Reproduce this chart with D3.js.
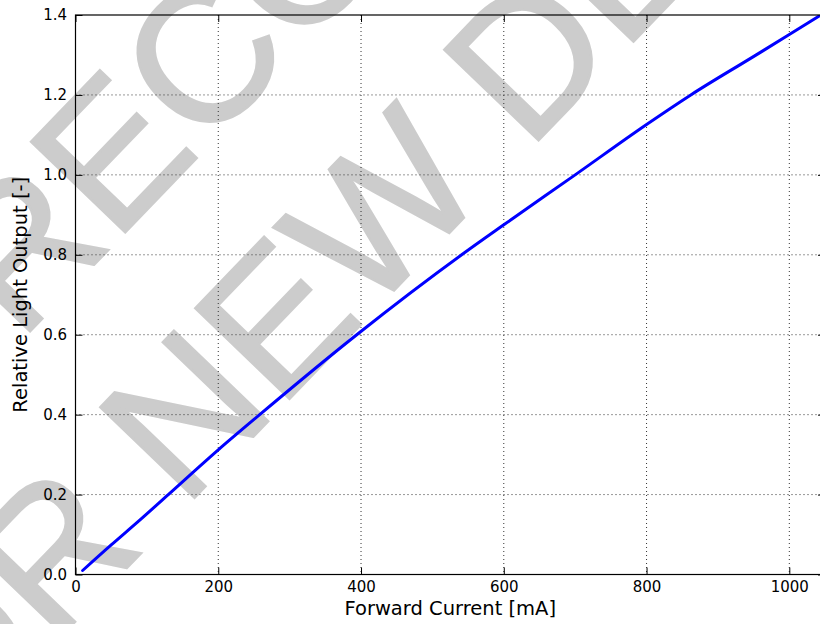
<!DOCTYPE html>
<html>
<head>
<meta charset="utf-8">
<script src="https://cdn.jsdelivr.net/npm/d3@7"></script>
<style>
  html, body { margin: 0; padding: 0; background: #fff; }
  svg { display: block; }
</style>
</head>
<body>
<svg id="chart" width="820" height="624"></svg>
<script>
// ---- data ----
const current = [10, 50, 90, 130, 200, 258, 394, 541, 600, 700, 800, 862, 948, 1000, 1045];
const lightOutput = [0.010, 0.074, 0.136, 0.200, 0.312, 0.400, 0.600, 0.800, 0.875, 1.000, 1.126, 1.200, 1.294, 1.351, 1.401];
const xTicks = [0, 200, 400, 600, 800, 1000];
const yTicks = [0.0, 0.2, 0.4, 0.6, 0.8, 1.0, 1.2, 1.4];
const xLabel = "Forward Current [mA]";
const yLabel = "Relative Light Output [-]";
const watermarkLines = ["NOT RECOMMENDED", "FOR NEW DESIGN"];

// ---- layout ----
const pLeft = 75.5, pTop = 15, pRight = 825, pBottom = 574.5;
const svg = d3.select("#chart");

const x = d3.scaleLinear().domain([0, 1050]).range([pLeft, pRight]);
const y = d3.scaleLinear().domain([0, 1.4]).range([pBottom, pTop]);

// ---- watermark ----
const wmAngle = 46.1;
const wm = svg.append("g").attr("transform", `rotate(${-wmAngle})`);
const wmStarts = [[-293, 667], [-131, 836]];
watermarkLines.forEach((t, i) => {
  const a = wmAngle * Math.PI / 180;
  const sx = wmStarts[i][0], sy = wmStarts[i][1];
  const rx = sx * Math.cos(a) - sy * Math.sin(a);
  const ry = sx * Math.sin(a) + sy * Math.cos(a);
  wm.append("text")
    .attr("x", rx).attr("y", ry)
    .attr("font-family", "'Liberation Sans', Arial, sans-serif")
    .attr("font-size", 190)
    .attr("fill", "#cccccc")
    .attr("stroke", "#cccccc")
    .attr("stroke-width", 2.5)
    .attr("stroke-linejoin", "miter")
    .text(t);
});

// ---- grid ----
const grid = svg.append("g");
grid.selectAll("line.gx").data(xTicks.filter(d => d > 0)).enter().append("line")
  .attr("x1", d => x(d)).attr("x2", d => x(d))
  .attr("y1", pTop).attr("y2", pBottom)
  .attr("stroke", "#333").attr("stroke-width", 1).attr("stroke-dasharray", "1,3");
grid.selectAll("line.gy").data(yTicks.filter(d => d > 0 && d < 1.4)).enter().append("line")
  .attr("x1", pLeft).attr("x2", pRight)
  .attr("y1", d => y(d)).attr("y2", d => y(d))
  .attr("stroke", "#333").attr("stroke-width", 1).attr("stroke-dasharray", "1,3");

// ---- axes ----
const tickFont = "'DejaVu Sans', sans-serif";
const gx = svg.append("g").attr("transform", `translate(0,${pBottom})`)
  .call(d3.axisBottom(x).tickValues(xTicks).tickSize(-7).tickPadding(7).tickFormat(d3.format("d")));
const gy = svg.append("g").attr("transform", `translate(${pLeft},0)`)
  .call(d3.axisLeft(y).tickValues(yTicks).tickSize(-7).tickPadding(8.5).tickFormat(d3.format(".1f")));
const gxt = svg.append("g").attr("transform", `translate(0,${pTop})`)
  .call(d3.axisTop(x).tickValues(xTicks).tickSize(-7).tickFormat(""));
const gyr = svg.append("g").attr("transform", `translate(${pRight},0)`)
  .call(d3.axisRight(y).tickValues(yTicks).tickSize(-7).tickFormat(""));
[gx, gy, gxt, gyr].forEach(g => {
  g.select(".domain").remove();
  g.selectAll(".tick line").attr("stroke", "#000").attr("stroke-width", 1);
  g.selectAll(".tick text").attr("font-family", tickFont).attr("font-size", 15).attr("fill", "#000");
});

// ---- line ----
svg.append("clipPath").attr("id", "clip").append("rect")
  .attr("x", pLeft).attr("y", pTop).attr("width", pRight - pLeft).attr("height", pBottom - pTop);
const pts = current.map((c, i) => [c, lightOutput[i]]);
svg.append("path")
  .datum(pts)
  .attr("clip-path", "url(#clip)")
  .attr("fill", "none")
  .attr("stroke", "#0000ff")
  .attr("stroke-width", 3)
  .attr("stroke-linecap", "round")
  .attr("d", d3.line().x(d => x(d[0])).y(d => y(d[1])).curve(d3.curveMonotoneX));

// ---- spines ----
svg.append("rect")
  .attr("x", pLeft).attr("y", pTop).attr("width", pRight - pLeft).attr("height", pBottom - pTop)
  .attr("fill", "none").attr("stroke", "#000").attr("stroke-width", 1.2);

// ---- labels ----
svg.append("text")
  .attr("x", (pLeft + pRight) / 2).attr("y", 615)
  .attr("text-anchor", "middle")
  .attr("font-family", tickFont).attr("font-size", 19.5)
  .text(xLabel);
svg.append("text")
  .attr("transform", `translate(27,${(pTop + pBottom) / 2}) rotate(-90)`)
  .attr("text-anchor", "middle")
  .attr("font-family", tickFont).attr("font-size", 19.5)
  .text(yLabel);
</script>
</body>
</html>
